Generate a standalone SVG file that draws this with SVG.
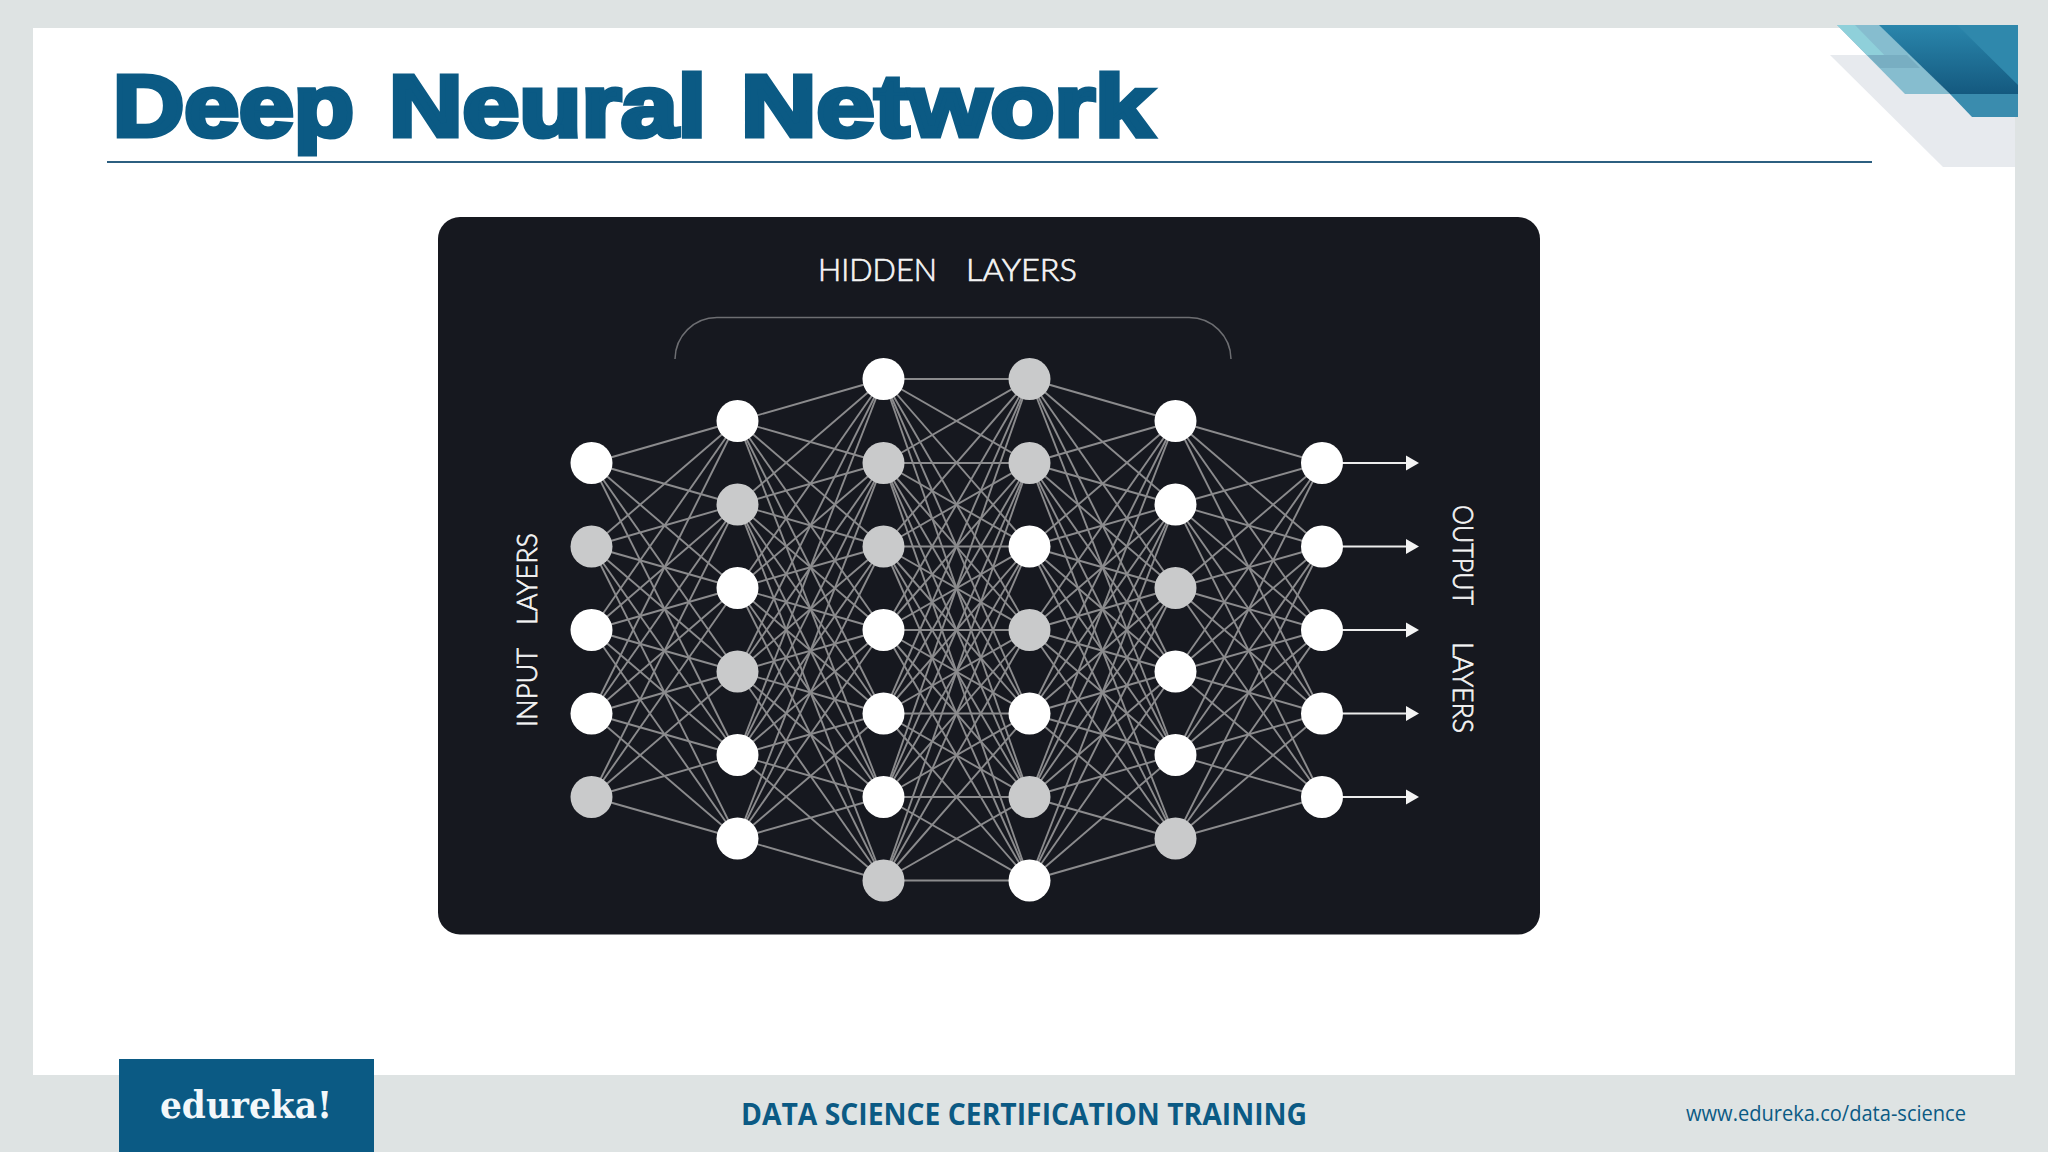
<svg xmlns="http://www.w3.org/2000/svg" width="2048" height="1152" viewBox="0 0 2048 1152">
<style>
.w{fill:#fff}
.g{fill:#c9cacb}
#connectors line{stroke:#8b8b8d;stroke-width:1.9}
#outputs line{stroke:#ececec;stroke-width:2.2}
.lbl{font-family:"Lato","Noto Sans",sans-serif;font-weight:300;fill:#f4f4f4;stroke:#f4f4f4;stroke-width:.7}
</style>
<defs>
<marker id="arrow" markerUnits="userSpaceOnUse" markerWidth="14" markerHeight="16" refX="0" refY="8" orient="auto"><path d="M0 .5L13 8L0 15.5z" fill="#f4f4f4"/></marker>
<linearGradient id="band" x1="0" y1="0" x2="0" y2="1"><stop offset="0" stop-color="#2a86ac"/><stop offset="1" stop-color="#14597f"/></linearGradient>
</defs>
<rect width="2048" height="1152" fill="#dee3e3"/>
<rect x="33" y="28" width="1982" height="1047" fill="#fff"/>
<g id="corner">
<path d="M1830 55H2015V167H1943z" fill="#e7eaee"/>
<path d="M1837 25H1880L1950 94H1905z" fill="#86bdcf"/>
<path d="M1837 25H1855L1897 68H1880z" fill="#8fd0da"/>
<path d="M1867 55H1907L1920 68H1880z" fill="#78aec2"/>
<path d="M1879 25H2018V94H1950z" fill="url(#band)"/>
<path d="M1957 25H2018V85z" fill="#2f88ac"/>
<path d="M1950 94H2018V117H1972z" fill="#3a8cae"/>
</g>
<text y="136" font-family="Liberation Sans,Arial,sans-serif" font-weight="700" font-size="87" fill="#0b5a84" stroke="#0b5a84" stroke-width="5"><tspan x="113" textLength="241" lengthAdjust="spacingAndGlyphs">Deep</tspan><tspan x="389" textLength="317" lengthAdjust="spacingAndGlyphs">Neural</tspan><tspan x="741" textLength="412" lengthAdjust="spacingAndGlyphs">Network</tspan></text>
<rect x="107" y="161" width="1765" height="2" fill="#2c5f80"/>
<rect x="438" y="217" width="1102" height="717.5" rx="22" fill="#16181f"/>
<path d="M675 359A42 42 0 0 1 717 317.5H1189A42 42 0 0 1 1231 359" fill="none" stroke="#6d6e72" stroke-width="1.5"/>
<text class="lbl" y="281" font-size="31"><tspan x="818" textLength="119" lengthAdjust="spacingAndGlyphs">HIDDEN</tspan><tspan x="966" textLength="111" lengthAdjust="spacingAndGlyphs">LAYERS</tspan></text>
<text class="lbl" transform="translate(536.5 727) rotate(-90)" font-size="27"><tspan x="0" textLength="79" lengthAdjust="spacingAndGlyphs">INPUT</tspan><tspan x="102" textLength="92" lengthAdjust="spacingAndGlyphs">LAYERS</tspan></text>
<text class="lbl" transform="translate(1453 505) rotate(90)" font-size="27"><tspan x="0" textLength="100" lengthAdjust="spacingAndGlyphs">OUTPUT</tspan><tspan x="137" textLength="91" lengthAdjust="spacingAndGlyphs">LAYERS</tspan></text>
<g id="connectors">
<line x1="591.5" y1="463" x2="737.5" y2="421"/><line x1="591.5" y1="463" x2="737.5" y2="504.5"/><line x1="591.5" y1="463" x2="737.5" y2="588"/><line x1="591.5" y1="463" x2="737.5" y2="671.5"/><line x1="591.5" y1="463" x2="737.5" y2="755"/>
<line x1="591.5" y1="546.5" x2="737.5" y2="421"/><line x1="591.5" y1="546.5" x2="737.5" y2="504.5"/><line x1="591.5" y1="546.5" x2="737.5" y2="588"/><line x1="591.5" y1="546.5" x2="737.5" y2="671.5"/><line x1="591.5" y1="546.5" x2="737.5" y2="755"/><line x1="591.5" y1="546.5" x2="737.5" y2="838.5"/>
<line x1="591.5" y1="630" x2="737.5" y2="421"/><line x1="591.5" y1="630" x2="737.5" y2="504.5"/><line x1="591.5" y1="630" x2="737.5" y2="588"/><line x1="591.5" y1="630" x2="737.5" y2="671.5"/><line x1="591.5" y1="630" x2="737.5" y2="755"/><line x1="591.5" y1="630" x2="737.5" y2="838.5"/>
<line x1="591.5" y1="713.5" x2="737.5" y2="421"/><line x1="591.5" y1="713.5" x2="737.5" y2="504.5"/><line x1="591.5" y1="713.5" x2="737.5" y2="588"/><line x1="591.5" y1="713.5" x2="737.5" y2="671.5"/><line x1="591.5" y1="713.5" x2="737.5" y2="755"/><line x1="591.5" y1="713.5" x2="737.5" y2="838.5"/>
<line x1="591.5" y1="797" x2="737.5" y2="504.5"/><line x1="591.5" y1="797" x2="737.5" y2="588"/><line x1="591.5" y1="797" x2="737.5" y2="671.5"/><line x1="591.5" y1="797" x2="737.5" y2="755"/><line x1="591.5" y1="797" x2="737.5" y2="838.5"/>

<line x1="737.5" y1="421" x2="883.5" y2="379"/><line x1="737.5" y1="421" x2="883.5" y2="463"/><line x1="737.5" y1="421" x2="883.5" y2="546.5"/><line x1="737.5" y1="421" x2="883.5" y2="630"/><line x1="737.5" y1="421" x2="883.5" y2="713.5"/><line x1="737.5" y1="421" x2="883.5" y2="797"/>
<line x1="737.5" y1="504.5" x2="883.5" y2="379"/><line x1="737.5" y1="504.5" x2="883.5" y2="463"/><line x1="737.5" y1="504.5" x2="883.5" y2="546.5"/><line x1="737.5" y1="504.5" x2="883.5" y2="630"/><line x1="737.5" y1="504.5" x2="883.5" y2="713.5"/><line x1="737.5" y1="504.5" x2="883.5" y2="797"/><line x1="737.5" y1="504.5" x2="883.5" y2="880.5"/>
<line x1="737.5" y1="588" x2="883.5" y2="379"/><line x1="737.5" y1="588" x2="883.5" y2="463"/><line x1="737.5" y1="588" x2="883.5" y2="546.5"/><line x1="737.5" y1="588" x2="883.5" y2="630"/><line x1="737.5" y1="588" x2="883.5" y2="713.5"/><line x1="737.5" y1="588" x2="883.5" y2="797"/><line x1="737.5" y1="588" x2="883.5" y2="880.5"/>
<line x1="737.5" y1="671.5" x2="883.5" y2="379"/><line x1="737.5" y1="671.5" x2="883.5" y2="463"/><line x1="737.5" y1="671.5" x2="883.5" y2="546.5"/><line x1="737.5" y1="671.5" x2="883.5" y2="630"/><line x1="737.5" y1="671.5" x2="883.5" y2="713.5"/><line x1="737.5" y1="671.5" x2="883.5" y2="797"/><line x1="737.5" y1="671.5" x2="883.5" y2="880.5"/>
<line x1="737.5" y1="755" x2="883.5" y2="379"/><line x1="737.5" y1="755" x2="883.5" y2="463"/><line x1="737.5" y1="755" x2="883.5" y2="546.5"/><line x1="737.5" y1="755" x2="883.5" y2="630"/><line x1="737.5" y1="755" x2="883.5" y2="713.5"/><line x1="737.5" y1="755" x2="883.5" y2="797"/><line x1="737.5" y1="755" x2="883.5" y2="880.5"/>
<line x1="737.5" y1="838.5" x2="883.5" y2="463"/><line x1="737.5" y1="838.5" x2="883.5" y2="546.5"/><line x1="737.5" y1="838.5" x2="883.5" y2="630"/><line x1="737.5" y1="838.5" x2="883.5" y2="713.5"/><line x1="737.5" y1="838.5" x2="883.5" y2="797"/><line x1="737.5" y1="838.5" x2="883.5" y2="880.5"/>

<line x1="883.5" y1="379" x2="1029.5" y2="379"/><line x1="883.5" y1="379" x2="1029.5" y2="463"/><line x1="883.5" y1="379" x2="1029.5" y2="546.5"/><line x1="883.5" y1="379" x2="1029.5" y2="630"/><line x1="883.5" y1="379" x2="1029.5" y2="713.5"/><line x1="883.5" y1="379" x2="1029.5" y2="797"/>
<line x1="883.5" y1="463" x2="1029.5" y2="379"/><line x1="883.5" y1="463" x2="1029.5" y2="463"/><line x1="883.5" y1="463" x2="1029.5" y2="546.5"/><line x1="883.5" y1="463" x2="1029.5" y2="630"/><line x1="883.5" y1="463" x2="1029.5" y2="713.5"/><line x1="883.5" y1="463" x2="1029.5" y2="797"/><line x1="883.5" y1="463" x2="1029.5" y2="880.5"/>
<line x1="883.5" y1="546.5" x2="1029.5" y2="379"/><line x1="883.5" y1="546.5" x2="1029.5" y2="463"/><line x1="883.5" y1="546.5" x2="1029.5" y2="546.5"/><line x1="883.5" y1="546.5" x2="1029.5" y2="630"/><line x1="883.5" y1="546.5" x2="1029.5" y2="713.5"/><line x1="883.5" y1="546.5" x2="1029.5" y2="797"/><line x1="883.5" y1="546.5" x2="1029.5" y2="880.5"/>
<line x1="883.5" y1="630" x2="1029.5" y2="379"/><line x1="883.5" y1="630" x2="1029.5" y2="463"/><line x1="883.5" y1="630" x2="1029.5" y2="546.5"/><line x1="883.5" y1="630" x2="1029.5" y2="630"/><line x1="883.5" y1="630" x2="1029.5" y2="713.5"/><line x1="883.5" y1="630" x2="1029.5" y2="797"/><line x1="883.5" y1="630" x2="1029.5" y2="880.5"/>
<line x1="883.5" y1="713.5" x2="1029.5" y2="379"/><line x1="883.5" y1="713.5" x2="1029.5" y2="463"/><line x1="883.5" y1="713.5" x2="1029.5" y2="546.5"/><line x1="883.5" y1="713.5" x2="1029.5" y2="630"/><line x1="883.5" y1="713.5" x2="1029.5" y2="713.5"/><line x1="883.5" y1="713.5" x2="1029.5" y2="797"/><line x1="883.5" y1="713.5" x2="1029.5" y2="880.5"/>
<line x1="883.5" y1="797" x2="1029.5" y2="379"/><line x1="883.5" y1="797" x2="1029.5" y2="463"/><line x1="883.5" y1="797" x2="1029.5" y2="546.5"/><line x1="883.5" y1="797" x2="1029.5" y2="630"/><line x1="883.5" y1="797" x2="1029.5" y2="713.5"/><line x1="883.5" y1="797" x2="1029.5" y2="797"/><line x1="883.5" y1="797" x2="1029.5" y2="880.5"/>
<line x1="883.5" y1="880.5" x2="1029.5" y2="463"/><line x1="883.5" y1="880.5" x2="1029.5" y2="546.5"/><line x1="883.5" y1="880.5" x2="1029.5" y2="630"/><line x1="883.5" y1="880.5" x2="1029.5" y2="713.5"/><line x1="883.5" y1="880.5" x2="1029.5" y2="797"/><line x1="883.5" y1="880.5" x2="1029.5" y2="880.5"/>

<line x1="1029.5" y1="379" x2="1175.5" y2="421"/><line x1="1029.5" y1="379" x2="1175.5" y2="504.5"/><line x1="1029.5" y1="379" x2="1175.5" y2="588"/><line x1="1029.5" y1="379" x2="1175.5" y2="671.5"/><line x1="1029.5" y1="379" x2="1175.5" y2="755"/>
<line x1="1029.5" y1="463" x2="1175.5" y2="421"/><line x1="1029.5" y1="463" x2="1175.5" y2="504.5"/><line x1="1029.5" y1="463" x2="1175.5" y2="588"/><line x1="1029.5" y1="463" x2="1175.5" y2="671.5"/><line x1="1029.5" y1="463" x2="1175.5" y2="755"/><line x1="1029.5" y1="463" x2="1175.5" y2="838.5"/>
<line x1="1029.5" y1="546.5" x2="1175.5" y2="421"/><line x1="1029.5" y1="546.5" x2="1175.5" y2="504.5"/><line x1="1029.5" y1="546.5" x2="1175.5" y2="588"/><line x1="1029.5" y1="546.5" x2="1175.5" y2="671.5"/><line x1="1029.5" y1="546.5" x2="1175.5" y2="755"/><line x1="1029.5" y1="546.5" x2="1175.5" y2="838.5"/>
<line x1="1029.5" y1="630" x2="1175.5" y2="421"/><line x1="1029.5" y1="630" x2="1175.5" y2="504.5"/><line x1="1029.5" y1="630" x2="1175.5" y2="588"/><line x1="1029.5" y1="630" x2="1175.5" y2="671.5"/><line x1="1029.5" y1="630" x2="1175.5" y2="755"/><line x1="1029.5" y1="630" x2="1175.5" y2="838.5"/>
<line x1="1029.5" y1="713.5" x2="1175.5" y2="421"/><line x1="1029.5" y1="713.5" x2="1175.5" y2="504.5"/><line x1="1029.5" y1="713.5" x2="1175.5" y2="588"/><line x1="1029.5" y1="713.5" x2="1175.5" y2="671.5"/><line x1="1029.5" y1="713.5" x2="1175.5" y2="755"/><line x1="1029.5" y1="713.5" x2="1175.5" y2="838.5"/>
<line x1="1029.5" y1="797" x2="1175.5" y2="421"/><line x1="1029.5" y1="797" x2="1175.5" y2="504.5"/><line x1="1029.5" y1="797" x2="1175.5" y2="588"/><line x1="1029.5" y1="797" x2="1175.5" y2="671.5"/><line x1="1029.5" y1="797" x2="1175.5" y2="755"/><line x1="1029.5" y1="797" x2="1175.5" y2="838.5"/>
<line x1="1029.5" y1="880.5" x2="1175.5" y2="504.5"/><line x1="1029.5" y1="880.5" x2="1175.5" y2="588"/><line x1="1029.5" y1="880.5" x2="1175.5" y2="671.5"/><line x1="1029.5" y1="880.5" x2="1175.5" y2="755"/><line x1="1029.5" y1="880.5" x2="1175.5" y2="838.5"/>

<line x1="1175.5" y1="421" x2="1322" y2="463"/><line x1="1175.5" y1="421" x2="1322" y2="546.5"/><line x1="1175.5" y1="421" x2="1322" y2="630"/><line x1="1175.5" y1="421" x2="1322" y2="713.5"/>
<line x1="1175.5" y1="504.5" x2="1322" y2="463"/><line x1="1175.5" y1="504.5" x2="1322" y2="546.5"/><line x1="1175.5" y1="504.5" x2="1322" y2="630"/><line x1="1175.5" y1="504.5" x2="1322" y2="713.5"/><line x1="1175.5" y1="504.5" x2="1322" y2="797"/>
<line x1="1175.5" y1="588" x2="1322" y2="463"/><line x1="1175.5" y1="588" x2="1322" y2="546.5"/><line x1="1175.5" y1="588" x2="1322" y2="630"/><line x1="1175.5" y1="588" x2="1322" y2="713.5"/><line x1="1175.5" y1="588" x2="1322" y2="797"/>
<line x1="1175.5" y1="671.5" x2="1322" y2="463"/><line x1="1175.5" y1="671.5" x2="1322" y2="546.5"/><line x1="1175.5" y1="671.5" x2="1322" y2="630"/><line x1="1175.5" y1="671.5" x2="1322" y2="713.5"/><line x1="1175.5" y1="671.5" x2="1322" y2="797"/>
<line x1="1175.5" y1="755" x2="1322" y2="463"/><line x1="1175.5" y1="755" x2="1322" y2="546.5"/><line x1="1175.5" y1="755" x2="1322" y2="630"/><line x1="1175.5" y1="755" x2="1322" y2="713.5"/><line x1="1175.5" y1="755" x2="1322" y2="797"/>
<line x1="1175.5" y1="838.5" x2="1322" y2="546.5"/><line x1="1175.5" y1="838.5" x2="1322" y2="630"/><line x1="1175.5" y1="838.5" x2="1322" y2="713.5"/><line x1="1175.5" y1="838.5" x2="1322" y2="797"/>
</g>
<g id="outputs">
<line x1="1342" y1="463" x2="1406" y2="463" marker-end="url(#arrow)"/>
<line x1="1342" y1="546.5" x2="1406" y2="546.5" marker-end="url(#arrow)"/>
<line x1="1342" y1="630" x2="1406" y2="630" marker-end="url(#arrow)"/>
<line x1="1342" y1="713.5" x2="1406" y2="713.5" marker-end="url(#arrow)"/>
<line x1="1342" y1="797" x2="1406" y2="797" marker-end="url(#arrow)"/>
</g>
<g id="input-1"><circle class="w" cx="591.5" cy="463" r="21"/></g>
<g id="input-2"><circle class="g" cx="591.5" cy="546.5" r="21"/></g>
<g id="input-3"><circle class="w" cx="591.5" cy="630" r="21"/></g>
<g id="input-4"><circle class="w" cx="591.5" cy="713.5" r="21"/></g>
<g id="input-5"><circle class="g" cx="591.5" cy="797" r="21"/></g>
<g id="h1-1"><circle class="w" cx="737.5" cy="421" r="21"/></g>
<g id="h1-2"><circle class="g" cx="737.5" cy="504.5" r="21"/></g>
<g id="h1-3"><circle class="w" cx="737.5" cy="588" r="21"/></g>
<g id="h1-4"><circle class="g" cx="737.5" cy="671.5" r="21"/></g>
<g id="h1-5"><circle class="w" cx="737.5" cy="755" r="21"/></g>
<g id="h1-6"><circle class="w" cx="737.5" cy="838.5" r="21"/></g>
<g id="h2-1"><circle class="w" cx="883.5" cy="379" r="21"/></g>
<g id="h2-2"><circle class="g" cx="883.5" cy="463" r="21"/></g>
<g id="h2-3"><circle class="g" cx="883.5" cy="546.5" r="21"/></g>
<g id="h2-4"><circle class="w" cx="883.5" cy="630" r="21"/></g>
<g id="h2-5"><circle class="w" cx="883.5" cy="713.5" r="21"/></g>
<g id="h2-6"><circle class="w" cx="883.5" cy="797" r="21"/></g>
<g id="h2-7"><circle class="g" cx="883.5" cy="880.5" r="21"/></g>
<g id="h3-1"><circle class="g" cx="1029.5" cy="379" r="21"/></g>
<g id="h3-2"><circle class="g" cx="1029.5" cy="463" r="21"/></g>
<g id="h3-3"><circle class="w" cx="1029.5" cy="546.5" r="21"/></g>
<g id="h3-4"><circle class="g" cx="1029.5" cy="630" r="21"/></g>
<g id="h3-5"><circle class="w" cx="1029.5" cy="713.5" r="21"/></g>
<g id="h3-6"><circle class="g" cx="1029.5" cy="797" r="21"/></g>
<g id="h3-7"><circle class="w" cx="1029.5" cy="880.5" r="21"/></g>
<g id="h4-1"><circle class="w" cx="1175.5" cy="421" r="21"/></g>
<g id="h4-2"><circle class="w" cx="1175.5" cy="504.5" r="21"/></g>
<g id="h4-3"><circle class="g" cx="1175.5" cy="588" r="21"/></g>
<g id="h4-4"><circle class="w" cx="1175.5" cy="671.5" r="21"/></g>
<g id="h4-5"><circle class="w" cx="1175.5" cy="755" r="21"/></g>
<g id="h4-6"><circle class="g" cx="1175.5" cy="838.5" r="21"/></g>
<g id="output-1"><circle class="w" cx="1322" cy="463" r="21"/></g>
<g id="output-2"><circle class="w" cx="1322" cy="546.5" r="21"/></g>
<g id="output-3"><circle class="w" cx="1322" cy="630" r="21"/></g>
<g id="output-4"><circle class="w" cx="1322" cy="713.5" r="21"/></g>
<g id="output-5"><circle class="w" cx="1322" cy="797" r="21"/></g>
<rect x="119" y="1059" width="255" height="93" fill="#0b5a84"/>
<text x="160" y="1118" font-family="DejaVu Serif,serif" font-weight="700" font-size="38" fill="#f2f7fa" textLength="172" lengthAdjust="spacingAndGlyphs">edureka!</text>
<text x="741" y="1125" font-family="Open Sans,sans-serif" font-weight="700" font-size="30" fill="#0b5a84" textLength="566" lengthAdjust="spacingAndGlyphs">DATA SCIENCE CERTIFICATION TRAINING</text>
<text x="1686" y="1121" font-family="Open Sans,sans-serif" font-size="22" fill="#0b5a84" textLength="280" lengthAdjust="spacingAndGlyphs">www.edureka.co/data-science</text>
</svg>
